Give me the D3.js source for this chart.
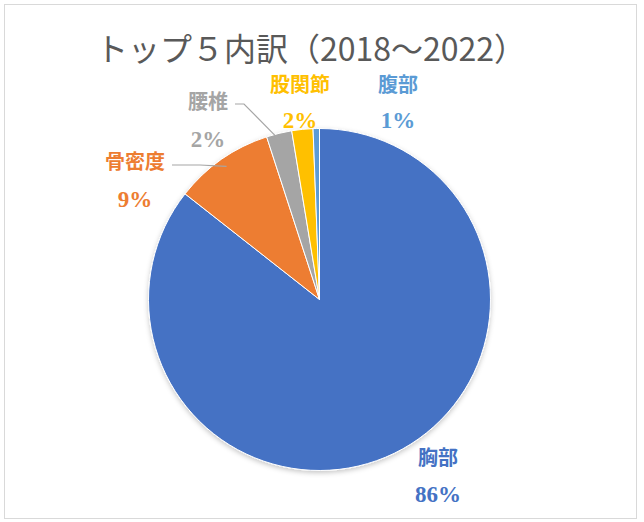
<!DOCTYPE html>
<html><head><meta charset="utf-8">
<script src="https://cdn.jsdelivr.net/npm/d3@7"></script>
<style>body{margin:0;background:#fff}svg{display:block}</style>
</head><body>
<script>
const categories = ["胸部", "骨密度", "腰椎", "股関節", "腹部"];
const values = [85.6, 9.4, 2.4, 2.0, 0.6];
const pctLabels = ["86%", "9%", "2%", "2%", "1%"];
const colors = ["#4472C4", "#ED7D31", "#A5A5A5", "#FFC000", "#5B9BD5"];
const title = "トップ５内訳（2018～2022）";

const W = 644, H = 522;
const cx = 319.5, cy = 299.5, R = 171;
const svg = d3.select("body").append("svg").attr("width", W).attr("height", H);
svg.append("rect").attr("x", 4.5).attr("y", 4.5).attr("width", 632).attr("height", 514)
  .attr("fill", "#fff").attr("stroke", "#D9D9D9").attr("stroke-width", 1);

const defs = svg.append("defs");
const f = defs.append("filter").attr("id", "sh").attr("x", "-20%").attr("y", "-20%").attr("width", "140%").attr("height", "140%");
f.append("feDropShadow").attr("dx", 0).attr("dy", 2).attr("stdDeviation", 2.5).attr("flood-color", "#000").attr("flood-opacity", 0.22);

svg.append("text").attr("x", 311).attr("y", 61).attr("text-anchor", "middle")
  .attr("font-family", "'Noto Sans CJK JP', sans-serif").attr("font-size", 32).attr("fill", "#595959")
  .text(title);

const data = categories.map((c, i) => ({c, v: values[i], p: pctLabels[i], col: colors[i]}));
const pie = d3.pie().value(d => d.v).sort(null);
const arcs = pie(data);
const arc = d3.arc().innerRadius(0).outerRadius(R);
const g = svg.append("g").attr("transform", `translate(${cx},${cy})`);
g.append("g").attr("filter", "url(#sh)").selectAll("path").data(arcs).join("path")
  .attr("d", arc).attr("fill", d => d.data.col).attr("stroke", "#fff").attr("stroke-width", 1);

// label anchors (layout, Excel manual placement)
const labelPos = {
  "胸部": [438, 465, 502],
  "骨密度": [135, 169, 207],
  "腰椎": [208, 109, 147],
  "股関節": [300, 92, 128],
  "腹部": [398, 92, 128]
};
const leaders = {
  "骨密度": [[172, 165], [200, 165]],
  "腰椎": [[235, 104], [244, 104]]
};
arcs.forEach(a => {
  const d = a.data, lp = labelPos[d.c];
  svg.append("text").attr("x", lp[0]).attr("y", lp[1]).attr("text-anchor", "middle")
    .attr("font-family", "'Noto Sans CJK JP', sans-serif").attr("font-weight", 700)
    .attr("font-size", 20).attr("fill", d.col).text(d.c);
  svg.append("text").attr("x", lp[0]).attr("y", lp[2]).attr("text-anchor", "middle")
    .attr("font-family", "'Liberation Serif', serif").attr("font-weight", 700)
    .attr("font-size", 23).attr("fill", d.col).text(d.p);
  if (leaders[d.c]) {
    const m = (a.startAngle + a.endAngle) / 2;
    const end = [cx + Math.sin(m) * R * 0.95, cy - Math.cos(m) * R * 0.95];
    const pts = leaders[d.c].concat([end]);
    svg.append("path").attr("d", d3.line()(pts)).attr("fill", "none")
      .attr("stroke", "#A6A6A6").attr("stroke-width", 1.2);
  }
});
</script>
</body></html>
